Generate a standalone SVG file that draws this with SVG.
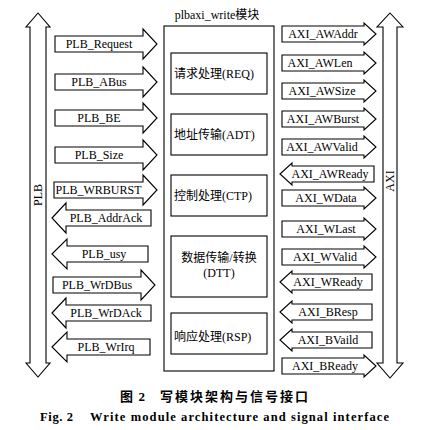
<svg xmlns="http://www.w3.org/2000/svg" width="431" height="430" viewBox="0 0 431 430">
<style>
.s{fill:#fff;stroke:#000;stroke-width:1.1;stroke-linejoin:miter}
.b{fill:#fff;stroke:#000;stroke-width:1.1}
.t{font-family:"Liberation Serif","Noto Sans CJK SC",serif;font-size:12px;fill:#000;text-anchor:middle}
.c{font-family:"Liberation Serif","Noto Sans CJK SC",serif;font-size:12px;fill:#000}
.cap{font-family:"Liberation Serif","Noto Sans CJK SC",serif;font-weight:bold;fill:#000}
</style>
<rect width="431" height="430" fill="#fff"/>

<g id="plb-bus">
<path class="s" d="M38,13 L50,27 L46,27 L46,363 L50,363 L38,377 L26,363 L30,363 L30,27 L26,27 Z"/>
<text class="t" transform="translate(42,195) rotate(-90)">PLB</text>
</g>
<g id="axi-bus">
<path class="s" d="M390,13 L403,27 L397,27 L397,363 L403,363 L390,378 L377,363 L383,363 L383,27 L377,27 Z"/>
<text class="t" transform="translate(394,181) rotate(-90)">AXI</text>
</g>

<g id="write-module">
<text class="t" x="217" y="19">plbaxi_write模块</text>
<rect class="b" x="164" y="26" width="110" height="345"/>
</g>
<g id="req"><rect class="b" x="171" y="53" width="96" height="41"/><text class="c" x="174" y="78">请求处理(REQ)</text></g>
<g id="adt"><rect class="b" x="171" y="114" width="96" height="41"/><text class="c" x="174" y="139">地址传输(ADT)</text></g>
<g id="ctp"><rect class="b" x="171" y="175" width="96" height="41"/><text class="c" x="174" y="200">控制处理(CTP)</text></g>
<g id="dtt"><rect class="b" x="171" y="236" width="96" height="61"/><text class="t" x="219" y="262">数据传输/转换</text><text class="t" x="219" y="277">(DTT)</text></g>
<g id="rsp"><rect class="b" x="171" y="313" width="96" height="41"/><text class="c" x="174" y="341">响应处理(RSP)</text></g>

<g id="connectors">
<!-- PLB side: right-pointing M55,c-8 H143 V c-15 L157,c ... -->
<g id="plb-request"><path class="s" d="M55,36 H143 V29 L157,44 L143,59 V52 H55 Z"/><text class="t" x="99" y="48">PLB_Request</text></g>
<g id="plb-abus"><path class="s" d="M55,74 H143 V67 L157,82 L143,97 V90 H55 Z"/><text class="t" x="99" y="86">PLB_ABus</text></g>
<g id="plb-be"><path class="s" d="M55,110 H143 V103 L157,118 L143,133 V126 H55 Z"/><text class="t" x="99" y="122">PLB_BE</text></g>
<g id="plb-size"><path class="s" d="M55,147 H143 V140 L157,155 L143,170 V163 H55 Z"/><text class="t" x="99" y="159">PLB_Size</text></g>
<g id="plb-wrburst"><path class="s" d="M54,182 H143 V175 L157,190 L143,205 V198 H54 Z"/><text class="t" x="98.5" y="194">PLB_WRBURST</text></g>
<g id="plb-addrack"><path class="s" d="M52,218 L66,203 V210 H151 V226 H66 V233 Z"/><text class="t" x="106" y="222">PLB_AddrAck</text></g>
<g id="plb-usy"><path class="s" d="M52,254 L67,239 V246 H148 V262 H67 V269 Z"/><text class="t" x="104" y="258">PLB_usy</text></g>
<g id="plb-wrdbus"><path class="s" d="M53,277 H141 V270 L155,285 L141,300 V293 H53 Z"/><text class="t" x="97" y="289">PLB_WrDBus</text></g>
<g id="plb-wrdack"><path class="s" d="M52,313 L66,298 V305 H151 V321 H66 V328 Z"/><text class="t" x="106" y="317">PLB_WrDAck</text></g>
<g id="plb-wrirq"><path class="s" d="M52,347 L67,332 V339 H150 V355 H67 V362 Z"/><text class="t" x="106" y="351">PLB_WrIrq</text></g>

<!-- AXI side -->
<g id="axi-awaddr"><path class="s" d="M282,26 H364 V23 L376,34 L364,45 V42 H282 Z"/><text class="t" x="323" y="38">AXI_AWAddr</text></g>
<g id="axi-awlen"><path class="s" d="M282,55 H364 V52 L376,63 L364,74 V71 H282 Z"/><text class="t" x="320" y="67">AXI_AWLen</text></g>
<g id="axi-awsize"><path class="s" d="M282,83 H364 V80 L376,91 L364,102 V99 H282 Z"/><text class="t" x="322" y="95">AXI_AWSize</text></g>
<g id="axi-awburst"><path class="s" d="M282,111 H364 V108 L376,119 L364,130 V127 H282 Z"/><text class="t" x="323" y="123">AXI_AWBurst</text></g>
<g id="axi-awvalid"><path class="s" d="M282,139 H364 V136 L376,147 L364,158 V155 H282 Z"/><text class="t" x="322" y="151">AXI_AWValid</text></g>
<g id="axi-awready"><path class="s" d="M280,174 L292,163 V166 H374 V182 H292 V185 Z"/><text class="t" x="330" y="178">AXI_AWReady</text></g>
<g id="axi-wdata"><path class="s" d="M282,190 H364 V187 L376,198 L364,209 V206 H282 Z"/><text class="t" x="326" y="202">AXI_WData</text></g>
<g id="axi-wlast"><path class="s" d="M282,221 H364 V218 L376,229 L364,240 V237 H282 Z"/><text class="t" x="326" y="233">AXI_WLast</text></g>
<g id="axi-wvalid"><path class="s" d="M282,249 H364 V246 L376,257 L364,268 V265 H282 Z"/><text class="t" x="325" y="261">AXI_WValid</text></g>
<g id="axi-wready"><path class="s" d="M280,282 L292,271 V274 H372 V290 H292 V293 Z"/><text class="t" x="328" y="286">AXI_WReady</text></g>
<g id="axi-bresp"><path class="s" d="M280,312 L292,301 V304 H372 V320 H292 V323 Z"/><text class="t" x="328" y="316">AXI_BResp</text></g>
<g id="axi-bvaild"><path class="s" d="M280,340 L292,329 V332 H372 V348 H292 V351 Z"/><text class="t" x="328" y="344">AXI_BVaild</text></g>
<g id="axi-bready"><path class="s" d="M282,358 H364 V355 L376,366 L364,377 V374 H282 Z"/><text class="t" x="325" y="370">AXI_BReady</text></g>
</g>

<g id="caption">
<text class="cap" x="120" y="401" font-size="13" textLength="25" lengthAdjust="spacing">图 2</text>
<text class="cap" x="160" y="401" font-size="13" textLength="148" lengthAdjust="spacing">写模块架构与信号接口</text>
<text class="cap" x="40" y="421" font-size="12.5" textLength="33" lengthAdjust="spacing">Fig. 2</text>
<text class="cap" x="90" y="421" font-size="12.5" textLength="299" lengthAdjust="spacing">Write module architecture and signal interface</text>
</g>
</svg>
